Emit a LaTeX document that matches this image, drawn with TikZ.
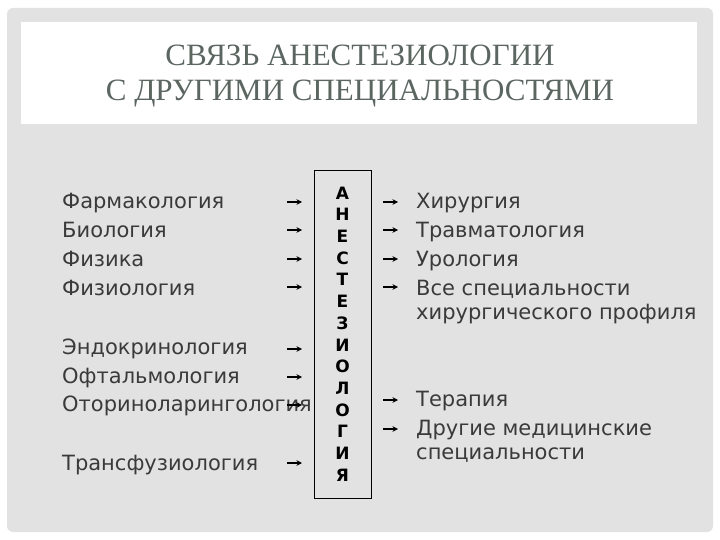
\documentclass[tikz,border=0pt]{standalone}
\usepackage{fontspec}
\usepackage{tikz}
\usetikzlibrary{arrows.meta}
\newfontfamily\itemfont{DejaVu Sans}
\newfontfamily\titlefont{Liberation Serif}
\definecolor{panelgray}{RGB}{226,226,226}
\definecolor{titlegray}{RGB}{92,102,97}
\definecolor{itemgray}{RGB}{58,58,58}

\begin{document}
\begin{tikzpicture}[x=1pt,y=-1pt,
    item/.style={anchor=base west,inner sep=0pt,text=itemgray,font=\itemfont\fontsize{21}{25}\selectfont},
    arr/.style={-{Stealth[length=5.5pt,width=5.5pt]},line width=1.2pt,black}]
\useasboundingbox (0,0) rectangle (720,540);
\fill[panelgray,rounded corners=6pt] (7,8) rectangle (713,532);
\fill[white] (21,22) rectangle (697,124);
\node[text=titlegray,align=center,font=\titlefont\fontsize{31}{35}\selectfont] (title) at (360,76)
    {СВЯЗЬ АНЕСТЕЗИОЛОГИИ\\С ДРУГИМИ СПЕЦИАЛЬНОСТЯМИ};

\node[draw=black,line width=0.8pt,fill=panelgray,minimum width=57pt,minimum height=328pt,align=center,
    font=\itemfont\bfseries\fontsize{17}{21.7}\selectfont] (anest) at (342.5,334)
    {А\\Н\\Е\\С\\Т\\Е\\З\\И\\О\\Л\\О\\Г\\И\\Я};

% left side
\node[item] (farm) at (62,209) {Фармакология};
\node[item] (bio) at (62,237) {Биология};
\node[item] (fiz) at (62,266) {Физика};
\node[item] (fiziol) at (62,295) {Физиология};
\node[item] (endo) at (62,354) {Эндокринология};
\node[item] (oft) at (62,383) {Офтальмология};
\node[item] (lor) at (62,411) {Оториноларингология};
\node[item] (trans) at (62,470) {Трансфузиология};

\coordinate (farm-a) at (287,202); \coordinate (farm-b) at (302,202);
\coordinate (bio-a) at (287,230); \coordinate (bio-b) at (302,230);
\coordinate (fiz-a) at (287,259); \coordinate (fiz-b) at (302,259);
\coordinate (fiziol-a) at (287,287); \coordinate (fiziol-b) at (302,287);
\coordinate (endo-a) at (287,349); \coordinate (endo-b) at (302,349);
\coordinate (oft-a) at (287,377); \coordinate (oft-b) at (302,377);
\coordinate (lor-a) at (287,405); \coordinate (lor-b) at (302,405);
\coordinate (trans-a) at (287,463); \coordinate (trans-b) at (302,463);
\draw[arr] (farm-a) -- (farm-b);
\draw[arr] (bio-a) -- (bio-b);
\draw[arr] (fiz-a) -- (fiz-b);
\draw[arr] (fiziol-a) -- (fiziol-b);
\draw[arr] (endo-a) -- (endo-b);
\draw[arr] (oft-a) -- (oft-b);
\draw[arr] (lor-a) -- (lor-b);
\draw[arr] (trans-a) -- (trans-b);

% right side
\node[item] (hir) at (416,209) {Хирургия};
\node[item] (travm) at (416,237) {Травматология};
\node[item] (uro) at (416,266) {Урология};
\node[item] (vse) at (416,295) {Все специальности};
\node[item] (vse2) at (416,319) {хирургического профиля};
\node[item] (ter) at (416,406) {Терапия};
\node[item] (dr) at (416,435) {Другие медицинские};
\node[item] (dr2) at (416,459) {специальности};

\coordinate (hir-a) at (383,202); \coordinate (hir-b) at (398,202);
\coordinate (travm-a) at (383,230); \coordinate (travm-b) at (398,230);
\coordinate (uro-a) at (383,259); \coordinate (uro-b) at (398,259);
\coordinate (vse-a) at (383,287); \coordinate (vse-b) at (398,287);
\coordinate (ter-a) at (383,400); \coordinate (ter-b) at (398,400);
\coordinate (dr-a) at (383,429); \coordinate (dr-b) at (398,429);
\draw[arr] (hir-a) -- (hir-b);
\draw[arr] (travm-a) -- (travm-b);
\draw[arr] (uro-a) -- (uro-b);
\draw[arr] (vse-a) -- (vse-b);
\draw[arr] (ter-a) -- (ter-b);
\draw[arr] (dr-a) -- (dr-b);
\end{tikzpicture}
\end{document}
